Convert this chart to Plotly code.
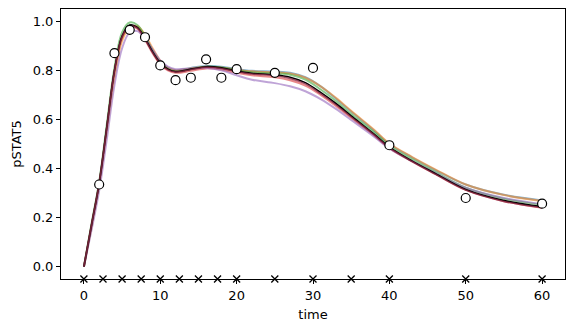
import plotly.graph_objects as go

# time knots for the model curves
t_curve = [0, 1, 2, 3, 4, 5, 6, 7, 8, 9, 10, 11, 12, 14, 16, 18, 20, 22, 25, 27, 29, 31, 33, 35, 38, 40, 43, 46, 50, 55, 60]

curve_blue = [0, 0.17, 0.34, 0.565, 0.79, 0.93, 0.98, 0.975, 0.935, 0.88, 0.835, 0.81, 0.80, 0.81, 0.818, 0.815, 0.805, 0.798, 0.795, 0.79, 0.772, 0.735, 0.685, 0.632, 0.555, 0.50, 0.445, 0.395, 0.335, 0.293, 0.27]
curve_orange = [0, 0.16, 0.33, 0.55, 0.77, 0.92, 0.975, 0.98, 0.945, 0.89, 0.84, 0.81, 0.80, 0.808, 0.815, 0.812, 0.803, 0.796, 0.792, 0.787, 0.77, 0.735, 0.688, 0.635, 0.558, 0.502, 0.447, 0.397, 0.335, 0.292, 0.268]
curve_green = [0, 0.175, 0.345, 0.58, 0.81, 0.955, 0.995, 0.985, 0.94, 0.88, 0.832, 0.805, 0.795, 0.805, 0.815, 0.812, 0.80, 0.792, 0.788, 0.782, 0.762, 0.722, 0.675, 0.622, 0.548, 0.493, 0.437, 0.386, 0.322, 0.277, 0.252]
curve_red = [0, 0.17, 0.34, 0.565, 0.795, 0.935, 0.98, 0.97, 0.925, 0.87, 0.825, 0.80, 0.79, 0.798, 0.808, 0.803, 0.79, 0.78, 0.772, 0.76, 0.738, 0.70, 0.655, 0.607, 0.535, 0.483, 0.428, 0.378, 0.313, 0.267, 0.24]
curve_purple = [0, 0.15, 0.31, 0.52, 0.74, 0.89, 0.955, 0.96, 0.93, 0.885, 0.84, 0.815, 0.805, 0.808, 0.81, 0.80, 0.78, 0.762, 0.748, 0.735, 0.715, 0.683, 0.643, 0.598, 0.53, 0.482, 0.43, 0.382, 0.322, 0.28, 0.255]
curve_black = [0, 0.17, 0.34, 0.57, 0.80, 0.94, 0.985, 0.975, 0.93, 0.875, 0.83, 0.805, 0.795, 0.805, 0.815, 0.81, 0.797, 0.788, 0.782, 0.772, 0.75, 0.71, 0.665, 0.615, 0.54, 0.487, 0.43, 0.38, 0.315, 0.27, 0.245]
curve_brown = [0, 0.17, 0.34, 0.568, 0.798, 0.937, 0.982, 0.972, 0.927, 0.872, 0.827, 0.802, 0.793, 0.803, 0.813, 0.808, 0.795, 0.785, 0.778, 0.767, 0.745, 0.705, 0.66, 0.61, 0.537, 0.484, 0.428, 0.377, 0.312, 0.266, 0.24]

# observed data
t_obs = [2, 4, 6, 8, 10, 12, 14, 16, 18, 20, 25, 30, 40, 50, 60]
y_obs = [0.335, 0.87, 0.965, 0.935, 0.82, 0.76, 0.77, 0.845, 0.77, 0.805, 0.79, 0.81, 0.495, 0.28, 0.257]

# sampling times (x markers)
t_samp = [0, 2.5, 5, 7.5, 10, 12.5, 15, 17.5, 20, 25, 30, 35, 40, 50, 60]
y_samp_level = -0.05

x_ticks = [0, 10, 20, 30, 40, 50, 60]
y_ticks = [0.0, 0.2, 0.4, 0.6, 0.8, 1.0]

fig = go.Figure()

colored = [
    (curve_blue, "rgba(31,119,180,0.55)"),
    (curve_orange, "rgba(255,127,14,0.55)"),
    (curve_green, "rgba(44,160,44,0.55)"),
    (curve_red, "rgba(214,39,40,0.55)"),
    (curve_purple, "rgba(148,103,189,0.6)"),
]
for ys, col in colored:
    fig.add_trace(go.Scatter(x=t_curve, y=ys, mode="lines", line=dict(color=col, width=2, shape="spline"),
                             showlegend=False, hoverinfo="skip"))

fig.add_trace(go.Scatter(x=t_curve, y=curve_black, mode="lines", line=dict(color="black", width=1.6, shape="spline"),
                         showlegend=False))
fig.add_trace(go.Scatter(x=t_curve, y=curve_brown, mode="lines", line=dict(color="rgba(140,40,70,0.8)", width=1.5, shape="spline"),
                         showlegend=False))

fig.add_trace(go.Scatter(x=t_obs, y=y_obs, mode="markers",
                         marker=dict(symbol="circle", size=9, color="white", line=dict(color="black", width=1.2)),
                         showlegend=False))

fig.add_trace(go.Scatter(x=t_samp, y=[y_samp_level] * len(t_samp), mode="markers", cliponaxis=False,
                         marker=dict(symbol="x-thin", size=7, line=dict(color="black", width=1.3)),
                         showlegend=False))

font = dict(family="DejaVu Sans", size=13, color="black")

fig.update_layout(
    width=575, height=332,
    margin=dict(l=61, r=10, t=9, b=53),
    paper_bgcolor="white", plot_bgcolor="white",
    font=font,
    xaxis=dict(range=[-3, 63], tickvals=x_ticks, ticks="outside", ticklen=4, tickcolor="black",
               showline=True, linecolor="black", linewidth=1, mirror=True, showgrid=False, zeroline=False,
               title=dict(text="time", font=font, standoff=8)),
    yaxis=dict(range=[-0.05, 1.05], tickvals=y_ticks, tickformat=".1f", ticks="outside", ticklen=4, tickcolor="black",
               showline=True, linecolor="black", linewidth=1, mirror=True, showgrid=False, zeroline=False,
               title=dict(text="pSTAT5", font=font, standoff=8)),
)

fig.write_html("out.html")
